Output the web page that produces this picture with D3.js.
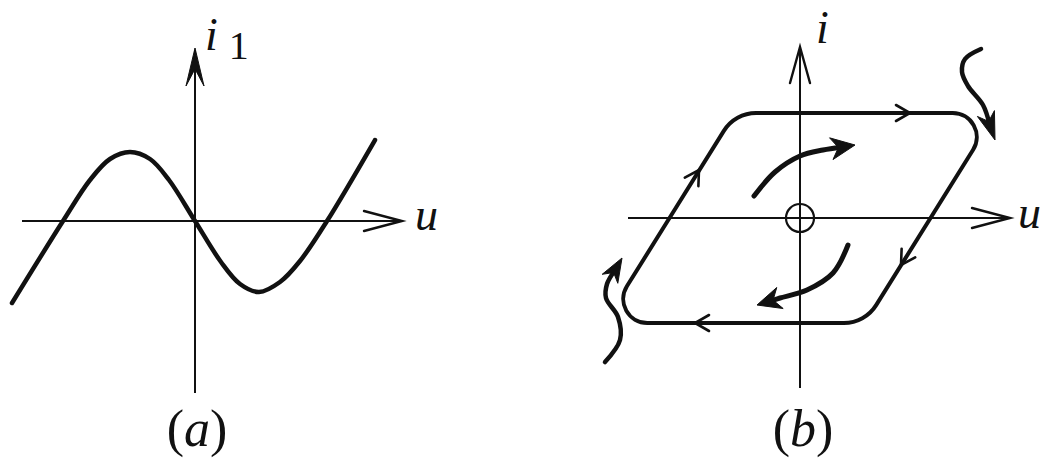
<!DOCTYPE html>
<html>
<head>
<meta charset="utf-8">
<script src="https://cdn.jsdelivr.net/npm/d3@7"></script>
<style>
  html, body { margin: 0; padding: 0; background: #fff; }
  svg { display: block; }
</style>
</head>
<body>
<svg id="fig" width="1046" height="459"></svg>
<script>
// ---------- Panel (a): N-shaped characteristic i1(u) ----------
const curveU = [-1.83, -1.32, -1.05, -0.85, -0.65, -0.45, -0.26, 0, 0.26, 0.45, 0.64, 0.85, 1.05, 1.32, 1.80];
const curveI = [-0.82, 0, 0.41, 0.62, 0.69, 0.62, 0.41, 0, -0.41, -0.63, -0.71, -0.61, -0.40, 0, 0.81];
const axisUA = [-1.73, 2.07];   // extent of the u axis
const axisIA = [-1.72, 1.73];   // extent of the i1 axis

// ---------- Panel (b): phase portrait with a stable limit cycle ----------
const axisUB = [-1.72, 2.10];
const axisIB = [-1.70, 1.71];
// corners of the cycle, clockwise: top-left, top-right, bottom-right, bottom-left
const cycleU = [-0.65, 1.96, 0.65, -1.96];
const cycleI = [1.05, 1.05, -1.05, -1.05];
// direction marks on the cycle: edge index (from corner k to k+1) and tip position
const markEdge = [0, 1, 2, 3];
const markU = [1.10, 1.01, -1.05, -1.01];
const markI = [1.05, -0.47, -1.05, 0.48];
// inner trajectories spiralling out from the unstable origin
const innerUpper = [[-0.46, 0.22], [-0.25, 0.46], [0, 0.62], [0.23, 0.68], [0.55, 0.73]];
const innerLower = [[0.48, -0.27], [0.33, -0.55], [0.07, -0.72], [-0.20, -0.80], [-0.43, -0.87]];
// outer trajectories approaching the cycle from outside
const outerTR = [[1.81, 1.69], [1.65, 1.59], [1.62, 1.46], [1.68, 1.32], [1.83, 1.13], [1.95, 0.78]];
const outerBL = [[-1.95, -1.44], [-1.80, -1.22], [-1.82, -0.99], [-1.94, -0.80], [-1.93, -0.66], [-1.78, -0.40]];

const ink = "#111";
const serif = '"Liberation Serif", "Times New Roman", serif';
const svg = d3.select("#fig");

function scales(cx, cy, unit) {
  return {
    x: d3.scaleLinear().domain([0, 1]).range([cx, cx + unit]),
    y: d3.scaleLinear().domain([0, 1]).range([cy, cy - unit])
  };
}

function norm(dx, dy) { const l = Math.hypot(dx, dy) || 1; return [dx / l, dy / l]; }

// open chevron arrowhead at (tx,ty) pointing along (dx,dy)
function chevron(g, tx, ty, dx, dy, len, half, width) {
  const [ux, uy] = norm(dx, dy);
  const bx = tx - ux * len, by = ty - uy * len;
  g.append("path")
    .attr("d", `M${bx - uy * half},${by + ux * half}L${tx},${ty}L${bx + uy * half},${by - ux * half}`)
    .attr("fill", "none").attr("stroke", ink).attr("stroke-width", width)
    .attr("stroke-linejoin", "miter").attr("stroke-linecap", "round");
}

// filled notched arrowhead
function solidHead(g, tx, ty, dx, dy, len, half, notch) {
  const [ux, uy] = norm(dx, dy);
  const bx = tx - ux * len, by = ty - uy * len;
  const nx = tx - ux * len * notch, ny = ty - uy * len * notch;
  g.append("path")
    .attr("d", `M${tx},${ty}L${bx - uy * half},${by + ux * half}L${nx},${ny}L${bx + uy * half},${by - ux * half}Z`)
    .attr("fill", ink).attr("stroke", ink).attr("stroke-width", 1).attr("stroke-linejoin", "round");
}

function axes(g, s, uExt, iExt, filledY) {
  g.append("line").attr("x1", s.x(uExt[0])).attr("x2", s.x(uExt[1]) - 2)
    .attr("y1", s.y(0)).attr("y2", s.y(0)).attr("stroke", ink).attr("stroke-width", 2);
  g.append("line").attr("x1", s.x(0)).attr("x2", s.x(0))
    .attr("y1", s.y(iExt[0])).attr("y2", s.y(iExt[1]) + 2).attr("stroke", ink).attr("stroke-width", 2);
  chevron(g, s.x(uExt[1]), s.y(0), 1, 0, 38, 10, 2.4);
  if (filledY) {
    solidHead(g, s.x(0), s.y(iExt[1]), 0, -1, 38, 9, 0.55);
  } else {
    chevron(g, s.x(0), s.y(iExt[1]), 0, -1, 36, 10, 2.4);
  }
}

// curve with a filled arrowhead at its last point
function arrowCurve(g, s, pts, headLen, headHalf, width) {
  const px = pts.map(p => [s.x(p[0]), s.y(p[1])]);
  const tip = px[px.length - 1], prev = px[px.length - 2];
  const [ux, uy] = norm(tip[0] - prev[0], tip[1] - prev[1]);
  const body = px.slice(0, -1).concat([[tip[0] - ux * headLen * 0.6, tip[1] - uy * headLen * 0.6]]);
  g.append("path")
    .attr("d", d3.line().curve(d3.curveCatmullRom.alpha(0.5))(body))
    .attr("fill", "none").attr("stroke", ink).attr("stroke-width", width).attr("stroke-linecap", "round");
  solidHead(g, tip[0], tip[1], ux, uy, headLen, headHalf, 0.7);
}

function label(g, x, y, size, parts, anchor) {
  const t = g.append("text").attr("x", x).attr("y", y)
    .style("font-family", serif).style("font-size", size + "px")
    .attr("fill", ink).attr("text-anchor", anchor || "start");
  parts.forEach(p => {
    const ts = t.append("tspan").text(p.t);
    if (p.it) ts.style("font-style", "italic");
    if (p.dx) ts.attr("dx", p.dx);
    if (p.dy) ts.attr("dy", p.dy);
    if (p.size) ts.style("font-size", p.size + "px");
  });
  return t;
}

// ----- panel (a) -----
const gA = svg.append("g");
const sA = scales(195, 221, 100);
axes(gA, sA, axisUA, axisIA, true);
gA.append("path")
  .datum(d3.zip(curveU, curveI))
  .attr("d", d3.line().x(d => sA.x(d[0])).y(d => sA.y(d[1])).curve(d3.curveCatmullRom.alpha(0.5)))
  .attr("fill", "none").attr("stroke", ink).attr("stroke-width", 4.5).attr("stroke-linecap", "round");
label(gA, 415, 230, 46, [{ t: "u", it: true }]);
label(gA, 205, 50, 46, [{ t: "i", it: true }, { t: "1", dx: 11, dy: 9, size: 40 }]);
label(gA, 197, 446, 52, [{ t: "(" }, { t: "a", it: true }, { t: ")" }], "middle");

// ----- panel (b) -----
const gB = svg.append("g");
const sB = scales(800, 218, 100);
axes(gB, sB, axisUB, axisIB, false);
gB.append("circle").attr("cx", sB.x(0)).attr("cy", sB.y(0)).attr("r", 14)
  .attr("fill", "none").attr("stroke", ink).attr("stroke-width", 2.2);

// limit cycle: parallelogram with rounded corners
const corners = d3.zip(cycleU, cycleI).map(p => [sB.x(p[0]), sB.y(p[1])]);
const radius = [38, 24, 38, 24];
const cyc = d3.path();
const mid = (a, b) => [(a[0] + b[0]) / 2, (a[1] + b[1]) / 2];
const start = mid(corners[3], corners[0]);
cyc.moveTo(start[0], start[1]);
for (let k = 0; k < 4; k++) {
  const c = corners[k], n = corners[(k + 1) % 4];
  cyc.arcTo(c[0], c[1], n[0], n[1], radius[k]);
}
cyc.closePath();
gB.append("path").attr("d", cyc.toString())
  .attr("fill", "none").attr("stroke", ink).attr("stroke-width", 4).attr("stroke-linejoin", "round");

markEdge.forEach((e, k) => {
  const a = corners[e], b = corners[(e + 1) % 4];
  chevron(gB, sB.x(markU[k]), sB.y(markI[k]), b[0] - a[0], b[1] - a[1], 14, 8, 2.6);
});

arrowCurve(gB, sB, innerUpper, 24, 11, 5);
arrowCurve(gB, sB, innerLower, 24, 11, 5);
arrowCurve(gB, sB, outerTR, 28, 9, 4.5);
arrowCurve(gB, sB, outerBL, 24, 9, 4.5);

label(gB, 1018, 228, 46, [{ t: "u", it: true }]);
label(gB, 816, 43, 46, [{ t: "i", it: true }]);
label(gB, 803, 446, 52, [{ t: "(" }, { t: "b", it: true }, { t: ")" }], "middle");
</script>
</body>
</html>
